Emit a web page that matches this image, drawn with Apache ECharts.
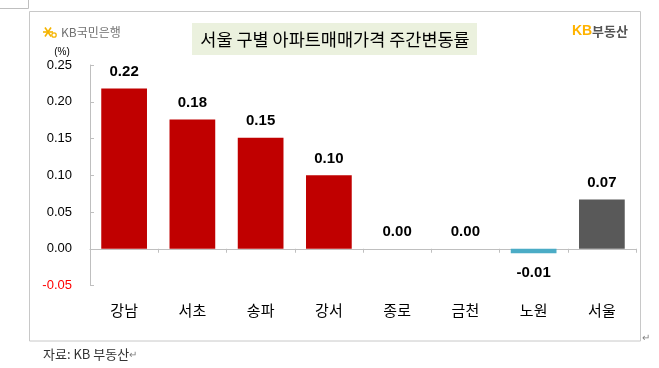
<!DOCTYPE html>
<html>
<head>
<meta charset="utf-8">
<script src="https://cdn.jsdelivr.net/npm/echarts@6/dist/echarts.min.js"></script>
<style>
html,body{margin:0;padding:0;background:#fff;}
#c{width:659px;height:368px;}
</style>
</head>
<body>
<div id="c"></div>
<script>
const categories = ['강남', '서초', '송파', '강서', '종로', '금천', '노원', '서울'];
const values = [0.218, 0.176, 0.151, 0.100, 0.000, 0.000, -0.006, 0.067];
const yMin = -0.05, yMax = 0.25, yInterval = 0.05;
const titleText = '서울 구별 아파트매매가격 주간변동률';
const unitText = '(%)';
const sourceText = '자료: KB 부동산';

const KR = '"Noto Sans CJK KR", sans-serif';
const NUM = '"Liberation Sans", Arial, sans-serif';

function barColor(i, v) {
  if (categories[i] === '서울') return '#595959';
  if (v < 0) return '#4BACC6';
  return '#C00000';
}

const chart = echarts.init(document.getElementById('c'), null, {renderer: 'canvas'});
chart.setOption({
  animation: false,
  backgroundColor: '#ffffff',
  grid: {left: 90, right: 23, top: 65, bottom: 82.5},
  xAxis: {
    type: 'category',
    data: categories,
    axisLine: {onZero: true, lineStyle: {color: '#BFBFBF', width: 1}},
    axisTick: {show: true, length: 4, lineStyle: {color: '#BFBFBF'}},
    axisLabel: {margin: 17, fontFamily: KR, fontSize: 15, color: '#000'}
  },
  yAxis: {
    type: 'value',
    min: yMin, max: yMax, interval: yInterval,
    splitLine: {show: false},
    axisLine: {show: true, lineStyle: {color: '#BFBFBF', width: 1}},
    axisTick: {show: true, inside: true, length: 4, lineStyle: {color: '#BFBFBF'}},
    axisLabel: {
      margin: 18, fontFamily: NUM, fontSize: 13,
      formatter: v => v.toFixed(2),
      color: v => (v < 0 ? '#FF0000' : '#000000')
    }
  },
  series: [{
    type: 'bar',
    barWidth: '67%',
    data: values.map((v, i) => ({
      value: v,
      itemStyle: {color: barColor(i, v)},
      label: {position: v < 0 ? 'bottom' : 'top', distance: v < 0 ? 12 : 9}
    })),
    label: {
      show: true,
      fontFamily: NUM, fontSize: 15, fontWeight: 'bold', color: '#000',
      formatter: p => p.value.toFixed(2)
    }
  }],
  graphic: [
    {type: 'line', shape: {x1: 0, y1: 8.5, x2: 28.5, y2: 8.5}, style: {stroke: '#BFBFBF', lineWidth: 1}, silent: true},
    {type: 'line', shape: {x1: 28.5, y1: 0, x2: 28.5, y2: 8.5}, style: {stroke: '#BFBFBF', lineWidth: 1}, silent: true},
    {type: 'rect', shape: {x: 29.5, y: 11.5, width: 611, height: 329.5}, style: {fill: 'none', stroke: '#C8C8C8', lineWidth: 1}, silent: true, z: -1},
    {type: 'rect', shape: {x: 192, y: 23, width: 285, height: 32}, style: {fill: '#EBF1DE'}, silent: true},
    {type: 'text', x: 335, y: 39.5, style: {text: titleText, font: '17.5px ' + KR, fill: '#000', textAlign: 'center', textVerticalAlign: 'middle'}, silent: true},
    {type: 'text', x: 62, y: 52, style: {text: unitText, font: '10px ' + NUM, fill: '#000', textAlign: 'center', textVerticalAlign: 'middle'}, silent: true},
    {type: 'group', x: 48, y: 32, silent: true, children: [
      {type: 'line', shape: {x1: -5, y1: 0, x2: 5, y2: 0}, style: {stroke: '#F5B400', lineWidth: 1.6}},
      {type: 'line', shape: {x1: -3, y1: -4.5, x2: 3, y2: 4.5}, style: {stroke: '#F5B400', lineWidth: 1.6}},
      {type: 'line', shape: {x1: 3, y1: -4.5, x2: -3, y2: 4.5}, style: {stroke: '#F5B400', lineWidth: 1.6}},
      {type: 'circle', shape: {cx: 6, cy: 3, r: 2.2}, style: {fill: 'none', stroke: '#F5B400', lineWidth: 1.3}}
    ]},
    {type: 'text', x: 61, y: 32, style: {text: 'KB국민은행', font: '12px ' + KR, fill: '#707070', textVerticalAlign: 'middle'}, silent: true},
    {type: 'text', x: 572, y: 31, style: {text: 'KB', font: 'bold 14px ' + NUM, fill: '#FFB300', textVerticalAlign: 'middle'}, silent: true},
    {type: 'text', x: 592, y: 31, style: {text: '부동산', font: 'bold 13px ' + KR, fill: '#555555', textVerticalAlign: 'middle'}, silent: true},
    {type: 'text', x: 642, y: 338, style: {text: '↵', font: '10px ' + NUM, fill: '#808080', textVerticalAlign: 'middle'}, silent: true},
    {type: 'text', x: 43, y: 354, style: {text: sourceText, font: '13px ' + KR, fill: '#333333', textVerticalAlign: 'middle'}, silent: true},
    {type: 'text', x: 129, y: 355, style: {text: '↵', font: '10px ' + NUM, fill: '#808080', textVerticalAlign: 'middle'}, silent: true}
  ]
});
</script>
</body>
</html>
